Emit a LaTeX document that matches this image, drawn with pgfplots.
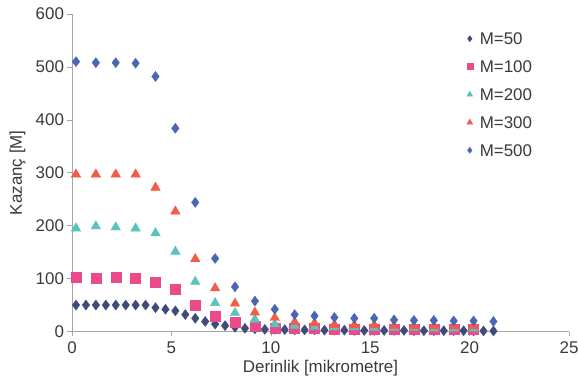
\documentclass[border=0pt]{standalone}
\usepackage{pgfplots}
\pgfplotsset{compat=1.18}
\usepackage{fontspec}
\setmainfont{Liberation Sans}
\definecolor{cA}{HTML}{3F4C7A}
\definecolor{cB}{HTML}{EB4B8A}
\definecolor{cC}{HTML}{5BC3BE}
\definecolor{cD}{HTML}{F25D47}
\definecolor{cE}{HTML}{4A67B2}
\definecolor{txt}{HTML}{3A3A3A}
\begin{document}
\begin{tikzpicture}
\path[use as bounding box] (-72bp,-60.5bp) rectangle (506bp,331.5bp);
\begin{axis}[
  at={(0,0)}, anchor=origin,
  scale only axis, width=497bp, height=317.5bp,
  xmin=0, xmax=25, ymin=0, ymax=600,
  axis x line*=bottom, axis y line*=left,
  axis line style={draw=gray!70, line width=0.6pt, -},
  xtick={0,5,...,25}, ytick={0,100,...,600},
  tick style={draw=gray!70, line width=0.6pt},
  tick align=outside, major tick length=4.5bp,
  ticklabel style={font=\fontsize{17}{20}\selectfont, text=txt},
  xticklabel style={yshift=-2bp},
  /pgf/number format/assume math mode=true,
  xlabel={Derinlik [mikrometre]}, ylabel={Kazanç [M]},
  label style={font=\fontsize{17}{20}\selectfont, text=txt},
  xlabel style={at={(axis description cs:0.5,0)}, anchor=center, yshift=-36.5bp},
  ylabel style={at={(axis description cs:0,0.5)}, anchor=center, yshift=54.5bp},
  clip=false,
  legend style={draw=none, fill=none, inner sep=0pt, at={(axis cs:19.85,569)}, anchor=north west,
    font=\fontsize{17}{20}\selectfont, text=txt, row sep=11.7bp, legend cell align=left,
    nodes={text height=12.2bp, text depth=0pt, inner sep=2bp},
    /tikz/every odd column/.append style={column sep=5bp}},
  legend image post style={scale=0.6},
  legend image code/.code={\draw[#1] plot coordinates {(0.2cm,0cm)};},
]
\addplot[only marks, mark=diamond*, mark size=5bp, color=cA] coordinates {
(0.2,50)(0.7,50)(1.2,50)(1.7,50)(2.2,50)(2.7,50)(3.2,50)(3.7,50)
(4.2,45)(4.7,42)(5.2,39)(5.7,32)(6.2,25)(6.7,19)(7.2,14)(7.7,11)(8.2,8)(8.7,6)
(9.2,5)(9.7,4)(10.2,4)(10.7,3.5)(11.2,3)(11.7,3)(12.2,3)
(12.7,2.5)(13.2,2.5)(13.7,2.5)
(14.2,2)(14.7,2)(15.2,2)(15.7,2)(16.2,2)(16.7,2)
(17.2,1.5)(17.7,1.5)(18.2,1.5)(18.7,1.5)(19.2,1.5)(19.7,1.5)
(20.2,1)(20.7,1)(21.2,1)};
\addlegendentry{M=50}
\addplot[only marks, mark=square*, mark size=5bp, color=cB] coordinates {
(0.2,103)(1.2,101)(2.2,102)(3.2,100)(4.2,93)(5.2,80)(6.2,49)(7.2,29)(8.2,18.5)
(9.2,10)(10.2,7)(11.2,6)(12.2,6)(13.2,5)(14.2,5)(15.2,5)(16.2,5)(17.2,5)(18.2,5)(19.2,5)(20.2,5)};
\addlegendentry{M=100}
\addplot[only marks, mark=triangle*, mark size=5.5bp, color=cC] coordinates {
(0.2,195)(1.2,199)(2.2,197)(3.2,195)(4.2,186)(5.2,151)(6.2,94)(7.2,54)(8.2,35)
(9.2,23)(10.2,14)(11.2,11)(12.2,9)(13.2,8)(14.2,8)(15.2,7)(16.2,7)(17.2,7)(18.2,6)(19.2,6)(20.2,6)};
\addlegendentry{M=200}
\addplot[only marks, mark=triangle*, mark size=5.5bp, color=cD] coordinates {
(0.2,297)(1.2,297)(2.2,297)(3.2,297)(4.2,272)(5.2,227)(6.2,137)(7.2,82)(8.2,53)
(9.2,36)(10.2,26)(11.2,18)(12.2,16)(13.2,13)(14.2,12)(15.2,12)(16.2,11)(17.2,10)(18.2,10)(19.2,10)(20.2,10)};
\addlegendentry{M=300}
\addplot[only marks, mark=diamond*, mark size=5bp, color=cE] coordinates {
(0.2,510)(1.2,508)(2.2,508)(3.2,507)(4.2,482)(5.2,384)(6.2,244)(7.2,138)(8.2,84.5)
(9.2,57.5)(10.2,42)(11.2,32)(12.2,29.5)(13.2,26.5)(14.2,25)(15.2,25)(16.2,22)(17.2,21)(18.2,21)(19.2,20)(20.2,20)(21.2,19)};
\addlegendentry{M=500}
\end{axis}
\end{tikzpicture}
\end{document}
